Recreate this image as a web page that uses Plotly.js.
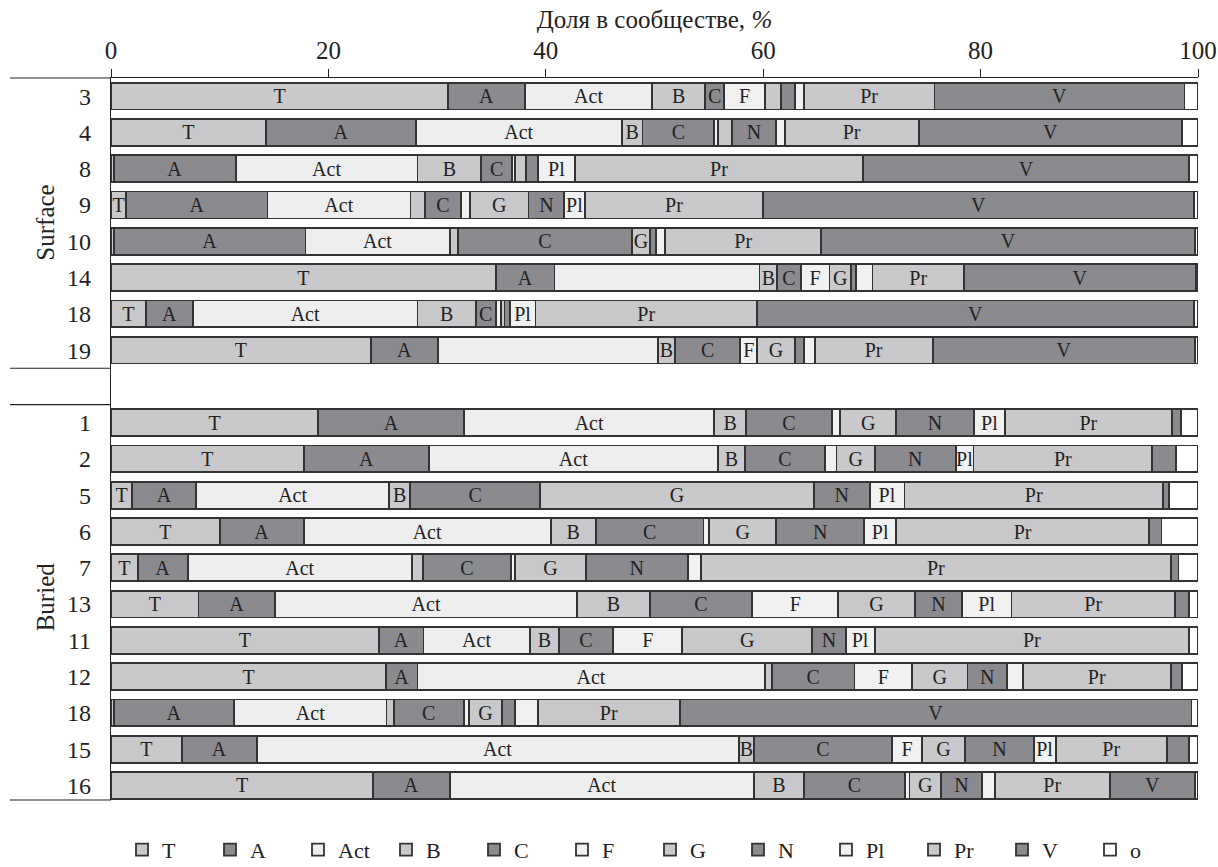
<!DOCTYPE html>
<html>
<head>
<meta charset="utf-8">
<script src="https://cdn.plot.ly/plotly-3.0.1.min.js"></script>
<style>html,body{margin:0;padding:0;background:#fff;}#chart{width:1218px;height:867px;}</style>
</head>
<body>
<div id="chart"></div>
<script>
// Row labels (top to bottom): Surface group then Buried group
const rowLabels = ["3","4","8","9","10","14","18","19","1","2","5","6","7","13","11","12","18","15","16"];
const groupSizes = [8, 11];
const groupNames = ["Surface", "Buried"];
const categories = ["T","A","Act","B","C","F","G","N","Pl","Pr","V","o"];

// Shares, % (one value per row, same order as rowLabels)
const T   = [31.0,14.25,0.25,1.4,0.25,35.4,3.2,23.9, 19.05,17.75,1.95,10.0,2.45,8.05,24.65,25.3,0.25,6.5,24.1];
const A   = [7.1,13.8,11.25,13.0,17.65,5.4,4.35,6.2, 13.45,11.5,5.9,7.75,4.6,7.05,4.1,2.9,11.1,6.9,7.05];
const Act = [11.7,18.95,16.7,13.15,13.25,18.85,20.65,20.2, 23.0,26.6,17.75,22.7,20.65,27.8,9.8,31.95,14.0,44.35,28.0];
const B   = [4.85,1.9,5.85,1.3,0.8,1.65,5.35,1.6, 2.9,2.45,1.9,4.15,1.0,6.65,2.65,0.65,0.65,1.4,4.6];
const C   = [1.75,6.6,2.85,3.35,15.95,2.15,1.85,6.0, 7.95,7.4,12.0,9.9,8.1,9.45,5.0,7.6,6.45,12.7,9.3];
const F   = [3.75,0.35,0.3,0.85,null,2.65,0.5,1.55, 0.75,1.05,null,0.55,0.35,7.9,6.35,5.3,0.45,2.75,0.4];
const G   = [1.5,1.25,1.0,5.35,1.7,1.95,0.3,3.45, 5.1,3.5,25.15,6.15,6.55,7.05,11.95,5.1,3.1,3.95,2.9];
const N   = [1.25,4.1,1.1,3.3,0.55,0.5,0.5,0.85, 7.2,7.45,5.15,8.1,9.35,4.35,3.1,3.6,1.15,6.35,3.8];
const Pl  = [0.85,0.8,3.4,1.9,0.85,1.5,2.35,1.0, 2.85,1.65,3.2,2.95,1.25,4.55,2.65,1.5,2.1,2.0,1.15];
const Pr  = [12.0,12.3,26.5,16.4,14.35,8.45,20.4,10.85, 15.35,16.45,23.8,23.25,43.2,15.05,28.95,13.6,13.1,10.25,10.6];
const V   = [23.0,24.25,30.0,39.6,34.4,21.3,40.15,24.15, 0.85,2.2,0.5,1.15,0.7,1.3,null,1.0,47.05,2.05,7.85];
const o   = [1.25,1.45,0.8,0.4,0.25,0.2,0.4,0.25, 1.55,2.0,2.7,3.35,1.8,0.8,0.8,1.5,0.6,0.8,0.25];

// Segments that carry a text label in each row
const labeled = [
  "T A Act B C F Pr V",
  "T A Act B C N Pr V",
  "A Act B C Pl Pr V",
  "T A Act C G N Pl Pr V",
  "A Act C G Pr V",
  "T A B C F G Pr V",
  "T A Act B C Pl Pr V",
  "T A B C F G Pr V",
  "T A Act B C G N Pl Pr",
  "T A Act B C G N Pl Pr",
  "T A Act B C G N Pl Pr",
  "T A Act B C G N Pl Pr",
  "T A Act C G N Pr",
  "T A Act B C F G N Pl Pr",
  "T A Act B C F G N Pl Pr",
  "T A Act C F G N Pr",
  "A Act C G Pr V",
  "T A Act B C F G N Pl Pr",
  "T A Act B C G N Pr V"
];

const values = {T, A, Act, B, C, F, G, N, Pl, Pr, V, o};
const LIGHT = "#c9c9cb", DARK = "#8b8b8f", PALE = "#eeeeee", WHITE = "#ffffff";
const colors = {T:LIGHT, A:DARK, Act:PALE, B:LIGHT, C:DARK, F:"#f1f1f1", G:LIGHT, N:DARK, Pl:"#f1f1f1", Pr:LIGHT, V:DARK, o:WHITE};

// y positions: gap row between groups
const yPos = rowLabels.map((_, i) => i < groupSizes[0] ? i : i + 1);

const FONT = "Liberation Serif";

const traces = categories.map(cat => ({
  type: "bar",
  orientation: "h",
  name: cat,
  y: yPos,
  x: values[cat],
  width: 0.74,
  marker: {color: colors[cat], line: {color: "#333333", width: 1.8}},
  text: rowLabels.map((_, i) => labeled[i].split(" ").includes(cat) ? cat : ""),
  textposition: "inside",
  insidetextanchor: "middle",
  constraintext: "none",
  textangle: 0,
  textfont: {family: FONT, size: 20, color: "#222"},
  hoverinfo: "skip",
  cliponaxis: false
}));

const plotLeft = 111, plotRight = 1198;
const px2paper = p => (p - plotLeft) / (plotRight - plotLeft);

const layout = {
  width: 1218, height: 867,
  margin: {l: 111, r: 20, t: 78, b: 67, autoexpand: false},
  paper_bgcolor: "#fff", plot_bgcolor: "#fff",
  barmode: "stack",
  bargap: 0,
  showlegend: true,
  title: {text: "Доля в сообществе, <i>%</i>", x: 0.5, xref: "paper", y: 1 - 19/867, yref: "container", yanchor: "middle",
          font: {family: FONT, size: 25, color: "#222"}},
  xaxis: {
    side: "top", range: [0, 100], tickvals: [0,20,40,60,80,100],
    showgrid: false, zeroline: false, showline: true, linecolor: "#222", linewidth: 1.2,
    ticks: "outside", ticklen: 8, tickcolor: "#222",
    tickfont: {family: FONT, size: 25, color: "#222"}, fixedrange: true
  },
  yaxis: {
    range: [19.4, -0.5], tickvals: yPos, ticktext: rowLabels,
    showgrid: false, zeroline: false, showline: true, linecolor: "#222", linewidth: 1.2,
    ticks: "", ticklabelstandoff: 14,
    tickfont: {family: FONT, size: 24, color: "#222"}, fixedrange: true
  },
  legend: {
    orientation: "h", x: px2paper(122), xanchor: "left", y: -0.069, yanchor: "middle",
    font: {family: FONT, size: 22, color: "#222"},
    entrywidth: 43, entrywidthmode: "pixels", traceorder: "normal", itemwidth: 30
  },
  shapes: [
    {type: "line", xref: "paper", yref: "paper", x0: px2paper(10), x1: 0, y0: 1, y1: 1, line: {color: "#222", width: 1.2}},
    {type: "line", xref: "paper", yref: "y", x0: px2paper(10), x1: 0, y0: 7.5, y1: 7.5, line: {color: "#222", width: 1.2}},
    {type: "line", xref: "paper", yref: "y", x0: px2paper(10), x1: 0, y0: 8.5, y1: 8.5, line: {color: "#222", width: 1.2}},
    {type: "line", xref: "paper", yref: "paper", x0: px2paper(10), x1: 0, y0: 0, y1: 0, line: {color: "#222", width: 1.2}}
  ],
  annotations: [
    {text: groupNames[0], xref: "paper", yref: "y", x: px2paper(30), y: 3.5, textangle: -90, showarrow: false,
     font: {family: FONT, size: 25, color: "#222"}},
    {text: groupNames[1], xref: "paper", yref: "y", x: px2paper(30), y: 13.8, textangle: -90, showarrow: false,
     font: {family: FONT, size: 25, color: "#222"}}
  ]
};

Plotly.newPlot("chart", traces, layout, {displayModeBar: false, staticPlot: true});
</script>
</body>
</html>
